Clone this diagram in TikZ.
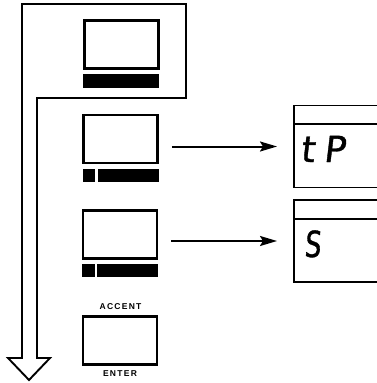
\documentclass[tikz,border=0pt]{standalone}
\usepackage{fontspec}
\usetikzlibrary{calc,positioning,arrows.meta}
\newfontfamily\segfont[FakeSlant=0.12,LetterSpace=25,FakeBold=1]{DejaVu Sans}
\newfontfamily\segfontn[FakeStretch=0.72,FakeSlant=0.08,FakeBold=1]{DejaVu Sans}
\newfontfamily\keyfont[LetterSpace=15]{Liberation Sans}
\tikzset{
  keybox/.style={draw,line width=2.6pt,minimum width=74pt,minimum height=48pt,inner sep=0pt},
  keybar/.style={fill=black,minimum width=76pt,minimum height=13.5pt,inner sep=0pt},
  disp/.style={draw,line width=1.6pt,minimum width=120pt,minimum height=82pt,inner sep=0pt},
  arr/.style={-{Stealth[length=17pt,width=10pt,inset=3pt]},line width=2pt},
  frame/.style={line width=1.9pt,line join=miter},
  lbl/.style={font=\keyfont\bfseries\fontsize{8.5}{8.5}\selectfont,inner sep=0pt}
}
\begin{document}
\begin{tikzpicture}[x=1pt,y=-1pt]
  \useasboundingbox (0,0) rectangle (377,383);
  \clip (0,0) rectangle (377,383);
  \draw[frame] (37,358) -- (37,98) -- (186,98) -- (186,4) -- (22,4) -- (22,358)
    -- (8,358) -- (29,380) -- (50,358) -- cycle;
  \node[keybox] (k1) at (121.5,44.5) {};
  \node[keybar] (b1) at (121,81)     {};
  \node[keybox] (k2) at (120.5,139)  {};
  \node[keybar] (b2) at (120.5,175.5){};
  \node[keybox] (k3) at (120,234.5)  {};
  \node[keybar] (b3) at (120,270.5)  {};
  \node[keybox] (k4) at (120,340.5)  {};
  \node[lbl] (acc) at (120.5,307) {ACCENT};
  \node[lbl] (ent) at (120,374) {ENTER};
  \draw[white,line width=2.5pt] ([xshift=14pt]b2.north west) -- ([xshift=14pt]b2.south west);
  \draw[white,line width=2.5pt] ([xshift=14pt]b3.north west) -- ([xshift=14pt]b3.south west);
  \node[disp] (d1) at (353.8,146.5) {};
  \node[disp] (d2) at (353.8,241)   {};
  \draw[line width=1.6pt] ([yshift=-19pt]d1.north west) -- ([yshift=-19pt]d1.north east);
  \draw[line width=1.6pt] ([yshift=-20pt]d2.north west) -- ([yshift=-20pt]d2.north east);
  \node[anchor=base west,inner sep=0pt,font=\segfont\fontsize{36}{36}\selectfont] (t1) at (300,162) {tP};
  \node[anchor=base west,inner sep=0pt,font=\segfontn\fontsize{36}{36}\selectfont] (t2) at (304,257) {S};
  \draw[arr,shorten <=13pt,shorten >=16pt] (k2.east |- d1.west) -- (d1.west);
  \draw[arr,shorten <=13pt,shorten >=16pt] (k3.east |- d2.west) -- (d2.west);
\end{tikzpicture}
\end{document}
